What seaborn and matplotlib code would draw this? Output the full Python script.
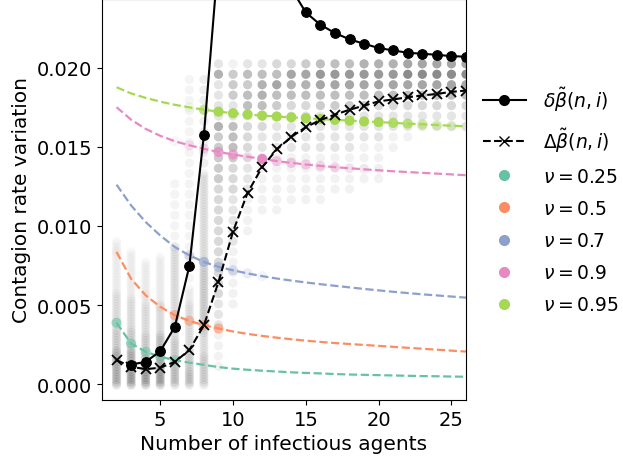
import numpy as np
import matplotlib
matplotlib.use("Agg")
import matplotlib.pyplot as plt
from matplotlib.colors import to_rgba
from matplotlib.lines import Line2D
import seaborn as sns

# number of infectious agents (x axis)
agents = list(range(2, 27))

# dashed curves, one per nu (values read at i = 2..26)
nu_labels = ["0.25", "0.5", "0.7", "0.9", "0.95"]
nu_colors = sns.color_palette("Set2", 5)
nu_025 = [0.00388, 0.00257, 0.00205, 0.00173, 0.00152, 0.00136, 0.00122, 0.00108, 0.00098,
          0.00091, 0.00085, 0.00080, 0.00075, 0.00071, 0.00068, 0.00064, 0.00061, 0.00059,
          0.00057, 0.00055, 0.00053, 0.00051, 0.00050, 0.00048, 0.00047]
nu_05 = [0.00836, 0.00666, 0.00562, 0.00489, 0.00436, 0.00400, 0.00373, 0.00352, 0.00333,
         0.00318, 0.00305, 0.00294, 0.00284, 0.00275, 0.00267, 0.00260, 0.00254, 0.00248,
         0.00242, 0.00236, 0.00230, 0.00224, 0.00218, 0.00212, 0.00206]
nu_07 = [0.01261, 0.01130, 0.01025, 0.00940, 0.00867, 0.00814, 0.00773, 0.00741, 0.00720,
         0.00700, 0.00683, 0.00668, 0.00655, 0.00643, 0.00632, 0.00622, 0.00612, 0.00602,
         0.00593, 0.00584, 0.00576, 0.00568, 0.00561, 0.00554, 0.00547]
nu_09 = [0.01751, 0.01672, 0.01614, 0.01570, 0.01536, 0.01510, 0.01488, 0.01468, 0.01452,
         0.01438, 0.01424, 0.01410, 0.01399, 0.01389, 0.01380, 0.01372, 0.01365, 0.01358,
         0.01352, 0.01346, 0.01341, 0.01336, 0.01331, 0.01326, 0.01321]
nu_095 = [0.01877, 0.01838, 0.01810, 0.01786, 0.01766, 0.01750, 0.01735, 0.01723, 0.01713,
          0.01705, 0.01698, 0.01692, 0.01687, 0.01682, 0.01676, 0.01671, 0.01666, 0.01661,
          0.01657, 0.01652, 0.01647, 0.01643, 0.01638, 0.01634, 0.01630]
nu_curves = [nu_025, nu_05, nu_07, nu_09, nu_095]

# coloured dots on the curves: which i, and how opaque
dots_x = [[2, 3, 4, 5, 6],
          [2, 4, 5, 6, 7, 8, 9],
          [6, 7, 8, 9, 10, 11, 12],
          [6, 7, 8, 9, 10, 11, 12, 13, 14, 15, 16, 17, 18, 19, 20],
          [7, 8, 9, 10, 11, 12, 13, 14, 15, 16, 17, 18, 19, 20, 21, 22, 23, 24, 25, 26]]
dots_alpha = [[0.6, 0.6, 0.5, 0.45, 0.45],
              [0.05, 0.08, 0.1, 0.5, 0.5, 0.55, 0.6],
              [0.1, 0.35, 0.6, 0.5, 0.35, 0.2, 0.1],
              [0.1, 0.25, 0.35, 0.8, 0.7, 0.2, 1.0, 0.45, 0.45, 0.4, 0.35, 0.3, 0.15, 0.1, 0.05],
              [0.15, 0.6, 1, 1, 1, 1, 1, 1, 1, 1, 1, 1, 1, 1, 0.85, 0.75, 0.5, 0.35, 0.25, 0.1]]

# black curves
small_x = list(range(3, 27))
small_delta = [0.00124, 0.00141, 0.00208, 0.00362, 0.00747, 0.01576, 0.0270, 0.045, 0.050,
               0.040, 0.033, 0.0250, 0.0235, 0.02272, 0.0222, 0.0218, 0.02152, 0.02125,
               0.0211, 0.02095, 0.02089, 0.02082, 0.02074, 0.0207]
big_delta = [0.00152, 0.00110, 0.00095, 0.00104, 0.00141, 0.00215, 0.00372, 0.00646, 0.00965,
             0.0121, 0.01372, 0.01484, 0.01563, 0.01625, 0.01670, 0.01704, 0.01735, 0.01761,
             0.01788, 0.01800, 0.01814, 0.01825, 0.01835, 0.01848, 0.01856]

# grey cloud of simulated values: shade digit per row (row 0 at top, '.' = none)
grey_top = 0.02025
grey_step = 0.00033
# dense columns use a row every half step
grey_fine_x = [2, 3, 4, 5, 6, 7, 8]
grey_fine = [
    "." * 68 + "1" * 20 + "2" * 14 + "3" * 8 + "5" * 14,
    "." * 72 + "1" * 18 + "2" * 12 + "3" * 8 + "5" * 8 + "6" * 6,
    "." * 76 + "1" * 16 + "2" * 12 + "3" * 8 + "5" * 6 + "6" * 6,
    "." * 74 + "1" * 18 + "2" * 12 + "4" * 8 + "5" * 6 + "6" * 6,
    "." * 46 + "2..." * 6 + "2" * 36 + "3" * 10 + "4" * 8,
    "." * 6 + "2..." * 20 + "1" * 6 + "2" * 18 + "3" * 8 + "4" * 6,
    "." * 6 + "3..." * 9 + "2" * 36 + "3" * 26 + "2" * 8 + "3" * 12,
]
# sparse columns, one digit every second step
grey_coarse_x = list(range(9, 27))
grey_coarse = [
    "262222" + "644444" + "33333333333" + "222" + "1111" + ".",
    "144422" + "555433" + "322222" + "111111" + ".......",
    "254552" + "333222" + "21111." + "." * 13,
    "256652" + "322111" + "111..." + "." * 13,
    "357542" + "222111" + "111..." + "." * 13,
    "376532" + "222111" + "11...." + "." * 13,
    "476532" + "222111" + "11...." + "." * 13,
    "587542" + "222111" + "11...." + "." * 13,
    "587542" + "222111" + "1....." + "." * 13,
    "587542" + "222111" + "1....." + "." * 13,
    "687542" + "221111" + "......" + "." * 13,
    "687532" + "221111" + "......" + "." * 13,
    "687532" + "211..." + "......" + "." * 13,
    "797532" + "21...." + "......" + "." * 13,
    "797532" + "2....." + "......" + "." * 13,
    "797532" + "2....." + "......" + "." * 13,
    "797532" + "2....." + "......" + "." * 13,
    "797532" + "2....." + "......" + "." * 13,
]

fig = plt.figure(figsize=(6.23, 4.6), dpi=100)
ax = fig.add_axes([0.1637, 0.1283, 0.5843, 0.8717])

# grey cloud
gx, gy, ga = [], [], []
for x, col in zip(grey_fine_x, grey_fine):
    for r, ch in enumerate(col):
        if ch != ".":
            gx.append(x)
            gy.append(grey_top - r * grey_step / 2)
            ga.append(int(ch) * 0.022)
for x, col in zip(grey_coarse_x, grey_coarse):
    for k, ch in enumerate(col):
        if ch != ".":
            gx.append(x)
            gy.append(grey_top - 2 * k * grey_step)
            ga.append(int(ch) * 0.05)
grey_rgba = np.zeros((len(ga), 4))
grey_rgba[:, 3] = ga
ax.scatter(gx, gy, s=44, c=grey_rgba, linewidths=0, zorder=1)

# dashed nu curves + their dots
for vals, color, xs, alphas in zip(nu_curves, nu_colors, dots_x, dots_alpha):
    sns.lineplot(x=agents, y=vals, color=color, linestyle="--", lw=1.6, ax=ax, zorder=2)
    ys = [vals[agents.index(x)] for x in xs]
    ax.scatter(xs, ys, s=54, c=[to_rgba(color, a) for a in alphas], linewidths=0, zorder=3)

# black curves
sns.lineplot(x=small_x, y=small_delta, color="k", lw=1.5, marker="o", markersize=7,
             markeredgecolor="k", ax=ax, zorder=5)
sns.lineplot(x=agents, y=big_delta, color="k", lw=1.5, linestyle="--", marker="x", markersize=7,
             markeredgecolor="k", markeredgewidth=1.3, ax=ax, zorder=4)

ax.set_xlim(1, 26)
ax.set_ylim(-0.001, 0.02435)
ax.set_xticks([5, 10, 15, 20, 25])
ax.set_yticks([0.0, 0.005, 0.010, 0.015, 0.020])
ax.yaxis.set_major_formatter(matplotlib.ticker.FormatStrFormatter("%.3f"))
ax.tick_params(labelsize=14)
ax.set_xlabel("Number of infectious agents", fontsize=14.5)
ax.set_ylabel("Contagion rate variation", fontsize=14.5)

handles = [Line2D([], [], color="k", lw=1.5, marker="o", markersize=7),
           Line2D([], [], color="k", lw=1.5, linestyle="--", marker="x", markersize=7)]
labels = [r"$\delta\tilde{\beta}(n,i)$", r"$\Delta\tilde{\beta}(n,i)$"]
for lab, color in zip(nu_labels, nu_colors):
    handles.append(Line2D([], [], color=color, linestyle="none", marker="o", markersize=7))
    labels.append(r"$\nu=" + lab + "$")
ax.legend(handles, labels, loc="center left", bbox_to_anchor=(1.0, 0.5), frameon=False,
          fontsize=13.5, labelspacing=0.7, handlelength=2.3, handletextpad=0.9)

fig.savefig("out.png", dpi=100)
